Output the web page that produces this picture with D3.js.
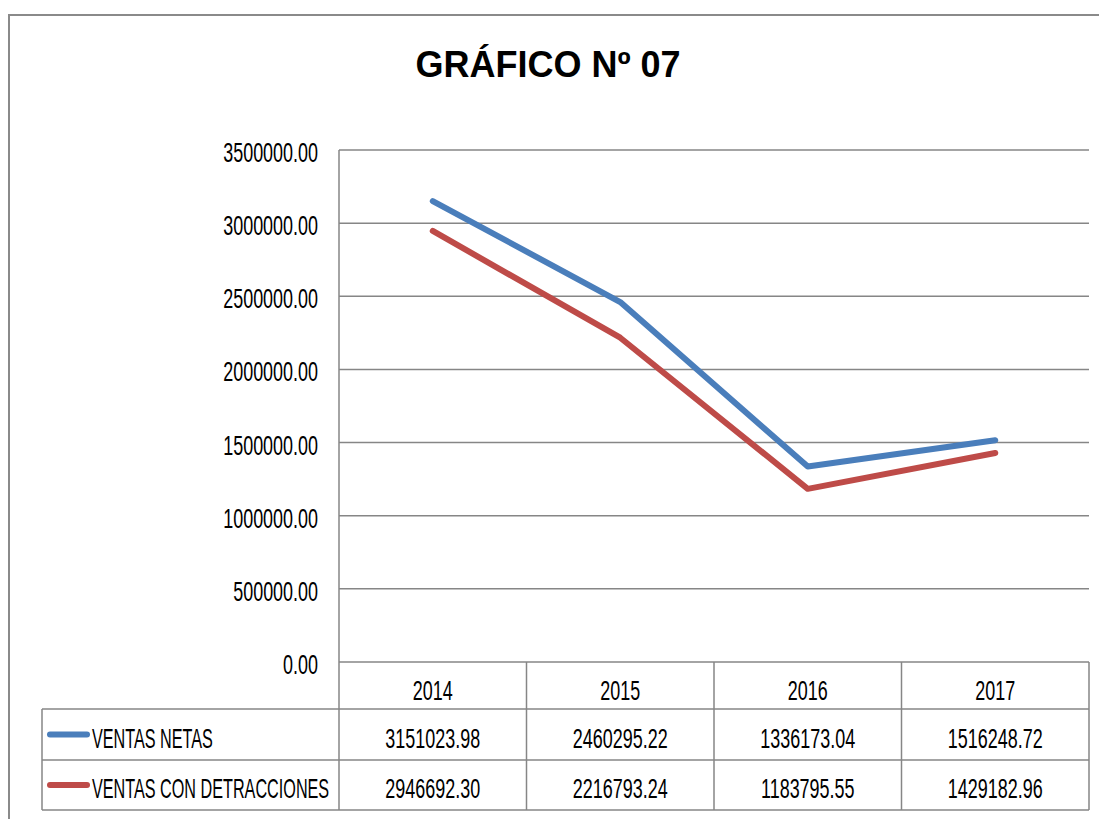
<!DOCTYPE html>
<html>
<head>
<meta charset="utf-8">
<script src="https://cdn.jsdelivr.net/npm/d3@7"></script>
<style>
  body { margin: 0; background: #fff; }
  text { font-family: "Liberation Sans", Arial, sans-serif; fill: #000; }
</style>
</head>
<body>
<div id="run"></div>
<script>
var years = ["2014", "2015", "2016", "2017"];
var ventasNetas = [3151023.98, 2460295.22, 1336173.04, 1516248.72];
var ventasDetracciones = [2946692.30, 2216793.24, 1183795.55, 1429182.96];
var seriesNames = ["VENTAS NETAS", "VENTAS CON DETRACCIONES"];
var seriesColors = ["#4a7ebb", "#be4b48"];
var yTicks = [0, 500000, 1000000, 1500000, 2000000, 2500000, 3000000, 3500000];

var width = 1099,
    height = 819;

// plot box (window.top is taken, so use other names)
var plotL = 339, plotR = 1089, plotT = 150, plotB = 662;
var rowH = [662, 709, 760, 810];
var tableLeft = 42;
var fs = 27,
    numScale = 0.665,
    txtScale = 0.6,
    gridColor = "#868686";

var svg = d3.select("#run").append("svg")
    .attr("width", width)
    .attr("height", height);

var x = d3.scaleBand().domain(years).range([plotL, plotR]);
var y = d3.scaleLinear().domain([0, 3500000]).range([plotB, plotT]);

// squashed text, like the narrow font in the original
function label(px, py, str, anchor, sx) {
    return svg.append("text")
        .attr("transform", "translate(" + px + "," + py + ") scale(" + sx + ",1)")
        .attr("text-anchor", anchor)
        .style("font-size", fs + "px")
        .text(str);
}

// outer frame (only top and left edges visible)
svg.append("path")
    .attr("d", "M9,819 L9,15 L1099,15")
    .attr("fill", "none")
    .attr("stroke", "#8a8a8a")
    .attr("stroke-width", 2);

// title
svg.append("text")
    .attr("x", 548)
    .attr("y", 77)
    .attr("text-anchor", "middle")
    .style("font-size", "36px")
    .style("font-weight", "bold")
    .text("GRÁFICO Nº 07");

// gridlines
svg.selectAll(".grid")
    .data(yTicks)
    .enter().append("line")
    .attr("class", "grid")
    .attr("x1", plotL)
    .attr("x2", plotR)
    .attr("y1", function(d) { return y(d); })
    .attr("y2", function(d) { return y(d); })
    .attr("stroke", gridColor)
    .attr("stroke-width", 1.5);

svg.append("line")
    .attr("x1", plotL).attr("x2", plotL)
    .attr("y1", plotT).attr("y2", plotB)
    .attr("stroke", gridColor)
    .attr("stroke-width", 1.5);

// y tick labels
yTicks.forEach(function(t) {
    label(318, y(t) + 12, d3.format(".2f")(t), "end", numScale);
});

// data table lines
var tbl = svg.append("g")
    .attr("stroke", gridColor)
    .attr("stroke-width", 1.5);

for (var r = 1; r < rowH.length; r++) {
    tbl.append("line").attr("x1", tableLeft).attr("x2", plotR).attr("y1", rowH[r]).attr("y2", rowH[r]);
}
tbl.append("line").attr("x1", tableLeft).attr("x2", tableLeft).attr("y1", rowH[1]).attr("y2", rowH[3]);
years.forEach(function(yr) {
    tbl.append("line").attr("x1", x(yr)).attr("x2", x(yr)).attr("y1", rowH[0]).attr("y2", rowH[3]);
});
tbl.append("line").attr("x1", plotR).attr("x2", plotR).attr("y1", rowH[0]).attr("y2", rowH[3]);

// year header
years.forEach(function(yr) {
    label(x(yr) + x.bandwidth() / 2, (rowH[0] + rowH[1]) / 2 + 14, yr, "middle", numScale);
});

// series rows
var allSeries = [ventasNetas, ventasDetracciones];
allSeries.forEach(function(vals, i) {
    var cy = (rowH[i + 1] + rowH[i + 2]) / 2;
    svg.append("line")
        .attr("x1", 50).attr("x2", 87)
        .attr("y1", cy).attr("y2", cy)
        .attr("stroke", seriesColors[i])
        .attr("stroke-width", 6)
        .attr("stroke-linecap", "round");
    label(92, cy + 13, seriesNames[i], "start", txtScale);
    vals.forEach(function(v, j) {
        label(x(years[j]) + x.bandwidth() / 2, cy + 13, d3.format(".2f")(v), "middle", numScale);
    });
});

// lines
var line = d3.line()
    .x(function(d, j) { return x(years[j]) + x.bandwidth() / 2; })
    .y(function(d) { return y(d); });

allSeries.forEach(function(vals, i) {
    svg.append("path")
        .datum(vals)
        .attr("d", line)
        .attr("fill", "none")
        .attr("stroke", seriesColors[i])
        .attr("stroke-width", 6)
        .attr("stroke-linecap", "round")
        .attr("stroke-linejoin", "round");
});
</script>
</body>
</html>
